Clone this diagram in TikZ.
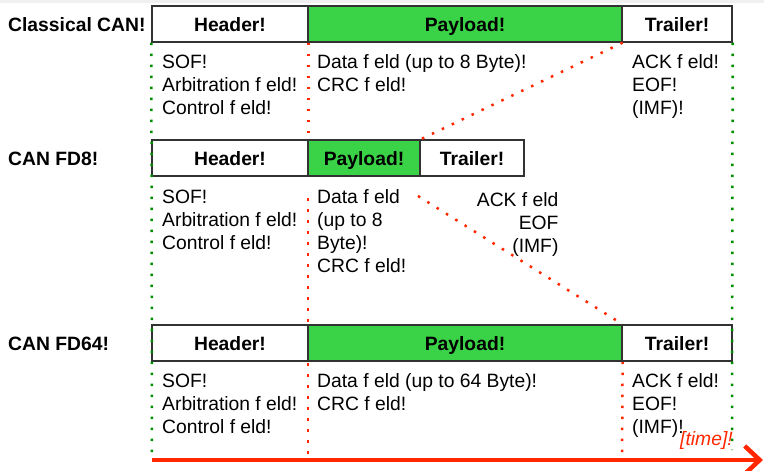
\documentclass[tikz,border=0pt]{standalone}
\usepackage{fontspec}
\setmainfont{Liberation Sans}
\usetikzlibrary{arrows.meta,backgrounds}
\definecolor{payloadgreen}{RGB}{58,210,70}
\definecolor{markred}{RGB}{255,38,0}
\definecolor{markgreen}{RGB}{0,143,0}
\definecolor{edgegray}{RGB}{50,50,50}
\newcommand\txtfont{\fontsize{19.3}{23}\selectfont}
\tikzset{
  every node/.style={font=\txtfont},
  field/.style={draw=edgegray, line width=1.3pt, minimum height=36pt, inner sep=0pt,
                text height=14pt, text depth=0pt, font=\txtfont\bfseries},
  hdr/.style={field, fill=white},
  pay/.style={field, fill=payloadgreen},
  rowlabel/.style={anchor=base west, inner sep=0pt, font=\txtfont\bfseries},
  fieldtxt/.style={anchor=base west, inner sep=0pt},
  fieldtxtR/.style={anchor=base east, inner sep=0pt},
  greendots/.style={markgreen, line width=2.5pt, dash pattern=on 2.5pt off 8.5pt, line cap=butt},
  reddots/.style={markred, line width=2.5pt, dash pattern=on 2.5pt off 8.5pt, line cap=butt},
}
% one node per text line, 23pt apart
\newcommand\fieldlines[5][fieldtxt]{%
  \foreach \t [count=\i] in {#5} {\node[#1] (#2-\i) at (#3,#4+23*\i-23) {\t};}}

\begin{document}
\begin{tikzpicture}[x=1pt,y=-1pt]
\useasboundingbox (0,0) rectangle (764,471);
\fill[gray!12] (0,0) rectangle (764,2.5);

% row labels
\node[rowlabel] (lab1) at (8,31) {Classical CAN!};
\node[rowlabel] (lab2) at (8,165) {CAN FD8!};
\node[rowlabel] (lab3) at (8,350) {CAN FD64!};

% frame fields
\node[hdr, minimum width=156pt] (h1) at (230,24) {Header!};
\node[pay, minimum width=314pt] (p1) at (465,24) {Payload!};
\node[hdr, minimum width=110pt] (t1) at (677,24) {Trailer!};

\node[hdr, minimum width=156pt] (h2) at (230,158) {Header!};
\node[pay, minimum width=112pt] (p2) at (364,158) {Payload!};
\node[hdr, minimum width=104pt] (t2) at (472,158) {Trailer!};

\node[hdr, minimum width=156pt] (h3) at (230,343) {Header!};
\node[pay, minimum width=314pt] (p3) at (465,343) {Payload!};
\node[hdr, minimum width=110pt] (t3) at (677,343) {Trailer!};

% field contents
\fieldlines{hA}{162}{68}{SOF!,Arbitration f eld!,Control f eld!}
\fieldlines{pA}{317}{68}{{Data f eld (up to 8 Byte)!},CRC f eld!}
\fieldlines{tA}{632}{68}{ACK f eld!,EOF!,{(IMF)!}}

\fieldlines{hB}{162}{203}{SOF!,Arbitration f eld!,Control f eld!}
\fieldlines{pB}{317}{203}{Data f eld,{(up to 8},{Byte)!},CRC f eld!}
\begin{scope}
  \clip (440,180) rectangle (559,270);
  \fieldlines[fieldtxtR]{tB}{564}{206}{ACK f eld!,EOF!,{(IMF)!}}
\end{scope}

\fieldlines{hC}{162}{387}{SOF!,Arbitration f eld!,Control f eld!}
\fieldlines{pC}{317}{387}{{Data f eld (up to 64 Byte)!},CRC f eld!}
\fieldlines{tC}{632}{387}{ACK f eld!,EOF!,{(IMF)!}}

% guide line end points
\coordinate (gBot) at (152,455);
\coordinate (gRbot) at (732,450);
\coordinate (rMid) at (308,198);
\coordinate (rBot) at (308,455);
\coordinate (tBot) at (622,455);
\coordinate (dStart) at (418,196);
\coordinate (tStart) at (152,460);
\coordinate (tEnd) at (763,460);

% red boundaries, behind the fields
\begin{scope}[on background layer]
  \draw[reddots] (h1.south east) -- (h2.north east);
  \draw[reddots] (rMid) -- (rBot);
  \draw[reddots] (p3.south east) -- (tBot);
\end{scope}
\draw[reddots] (p1.south east) -- (p2.north east);
\draw[reddots] (dStart) -- (p3.north east);

% green frame start / end
\draw[greendots] (h1.south west) -- (gBot);
\draw[greendots] (t1.south east) -- (gRbot);

% time axis
\draw[markred, line width=4.5pt, -{Straight Barb[length=15pt, width=28pt]}] (tStart) -- (tEnd);
\node[fieldtxt, text=markred, font=\txtfont\itshape] (timelab) at (680,445) {[time]!};
\end{tikzpicture}
\end{document}
